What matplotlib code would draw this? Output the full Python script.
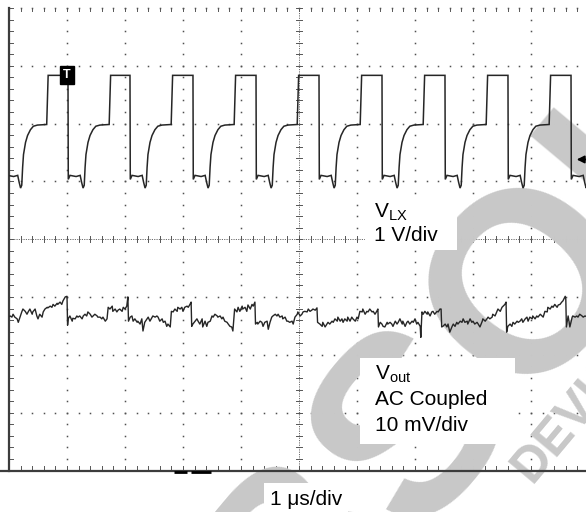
import numpy as np
import matplotlib
matplotlib.use("Agg")
import matplotlib.pyplot as plt
from matplotlib.patches import Rectangle

plt.rcParams['font.family'] = ['Liberation Sans', 'DejaVu Sans']
plt.rcParams['mathtext.fontset'] = 'custom'
plt.rcParams['mathtext.rm'] = 'Liberation Sans'

# ---------------- data (time in us, 1 us/div) ----------------
# V_LX switching node: fall instants of each pulse and the shape of one cycle
lx_fall_times_us = [-0.06, 1.017, 2.086, 3.172, 4.259, 5.345, 6.431, 7.517, 8.603, 9.690]
lx_shape_dt_us = [0.0, 0.005, 0.035, 0.14, 0.21, 0.235, 0.26, 0.28, 0.295, 0.31,
                  0.345, 0.38, 0.43, 0.48, 0.55, 0.71, 0.735]
lx_shape_v = [1.73, -0.07, 0.0, -0.02, 0.0, -0.12, -0.22, -0.17, 0.14, 0.36,
              0.57, 0.69, 0.79, 0.85, 0.87, 0.88, 1.73]

# V_out ripple (AC coupled, mV)
vout_time_us = [
    0.00, 0.02, 0.05, 0.07, 0.10, 0.14, 0.16, 0.19, 0.22, 0.24,
    0.28, 0.31, 0.33, 0.36, 0.40, 0.41, 0.45, 0.48, 0.50, 0.53,
    0.57, 0.59, 0.62, 0.66, 0.67, 0.71, 0.74, 0.76, 0.79, 0.83,
    0.84, 0.88, 0.91, 0.93, 0.97, 1.00, 1.01, 1.02,
    1.05, 1.09, 1.10, 1.14, 1.17, 1.19, 1.22, 1.26, 1.28, 1.31,
    1.34, 1.36, 1.40, 1.43, 1.45, 1.48, 1.52, 1.53, 1.57, 1.60,
    1.62, 1.66, 1.69, 1.71, 1.74, 1.78, 1.79, 1.83, 1.86, 1.88,
    1.91, 1.95, 1.97, 2.00, 2.03, 2.05, 2.06,
    2.09, 2.12, 2.14, 2.17, 2.21, 2.22, 2.26, 2.29, 2.31, 2.34,
    2.38, 2.40, 2.43, 2.47, 2.48, 2.52, 2.55, 2.57, 2.60, 2.64,
    2.66, 2.69, 2.72, 2.74, 2.78, 2.80, 2.83, 2.86, 2.90, 2.91,
    2.95, 2.98, 3.00, 3.03, 3.07, 3.09, 3.12, 3.14, 3.15,
    3.17, 3.21, 3.24, 3.26, 3.29, 3.33, 3.34, 3.38, 3.41, 3.43,
    3.47, 3.50, 3.52, 3.55, 3.59, 3.60, 3.64, 3.67, 3.69, 3.72,
    3.76, 3.78, 3.81, 3.84, 3.86, 3.89, 3.93, 3.95, 3.98, 4.02,
    4.03, 4.07, 4.10, 4.12, 4.16, 4.19, 4.21, 4.24, 4.25,
    4.28, 4.29, 4.33, 4.36, 4.38, 4.41, 4.45, 4.47, 4.50, 4.53,
    4.55, 4.59, 4.62, 4.64, 4.67, 4.71, 4.72, 4.76, 4.79, 4.81,
    4.84, 4.88, 4.90, 4.93, 4.97, 4.98, 5.02, 5.05, 5.07, 5.10,
    5.14, 5.16, 5.19, 5.22, 5.24, 5.28, 5.31, 5.32,
    5.36, 5.40, 5.41, 5.45, 5.48, 5.50, 5.53, 5.57, 5.59, 5.62,
    5.66, 5.67, 5.71, 5.74, 5.76, 5.79, 5.83, 5.84, 5.88, 5.91,
    5.93, 5.97, 6.00, 6.02, 6.05, 6.09, 6.10, 6.14, 6.17, 6.19,
    6.22, 6.26, 6.28, 6.31, 6.34, 6.36, 6.37,
    6.40, 6.43, 6.45, 6.48, 6.52, 6.53, 6.57, 6.60, 6.62, 6.66,
    6.69, 6.71, 6.74, 6.78, 6.79, 6.83, 6.86, 6.88, 6.91, 6.95,
    6.97, 7.00, 7.03, 7.05, 7.09, 7.10, 7.12, 7.14, 7.17, 7.21,
    7.22, 7.26, 7.29, 7.31, 7.34, 7.38, 7.40, 7.43, 7.45, 7.46,
    7.48, 7.52, 7.55, 7.57, 7.60, 7.64, 7.66, 7.69, 7.72, 7.74,
    7.78, 7.81, 7.83, 7.86, 7.90, 7.91, 7.95, 7.98, 8.00, 8.03,
    8.07, 8.09, 8.12, 8.16, 8.17, 8.21, 8.24, 8.26, 8.29, 8.33,
    8.34, 8.38, 8.41, 8.43, 8.47, 8.50, 8.52, 8.55, 8.57, 8.58,
    8.60, 8.64, 8.67, 8.69, 8.72, 8.76, 8.78, 8.81, 8.84, 8.86,
    8.90, 8.93, 8.95, 8.98, 9.02, 9.03, 9.07, 9.10, 9.12, 9.16,
    9.19, 9.21, 9.24, 9.28, 9.29, 9.33, 9.36, 9.38, 9.41, 9.45,
    9.47, 9.50, 9.53, 9.55, 9.59, 9.60, 9.61,
    9.64, 9.67, 9.71, 9.72, 9.76, 9.79, 9.81, 9.84, 9.88, 9.90,
    9.93, 9.96,
]
vout_mv = [
    0.1, 0.2, 0.0, 0.5, 0.0, -0.3, -0.9, 0.0, 0.9, 1.4,
    1.0, 0.5, 0.9, 1.4, 0.5, 0.9, 1.4, 0.2, -0.3, 0.5,
    0.0, 0.9, 1.4, 1.7, 1.6, 1.9, 1.7, 2.2, 1.9, 2.4,
    2.2, 2.6, 2.2, 2.8, 3.5, 3.6, -1.4, -0.3,
    0.2, -0.7, -0.2, -0.3, 0.2, 0.0, 0.2, -0.3, 0.2, 0.5,
    0.2, 0.9, 0.5, 0.0, 0.2, 0.5, 0.2, 0.0, 0.0, -0.3,
    0.0, -0.7, -0.3, 1.7, 1.4, 1.9, 1.0, 1.4, 0.9, 1.2,
    1.4, 1.0, 1.7, 1.4, 1.9, 3.5, -0.7,
    0.0, 0.2, -0.7, -0.3, -0.9, -0.7, -1.2, -0.3, -2.4, -0.9,
    -0.3, 0.0, -0.7, 0.0, 0.2, 0.0, 0.2, 0.0, -0.7, -0.3,
    -0.9, -0.7, -1.6, -1.2, -1.7, 1.0, 0.9, 1.4, 1.0, 1.7,
    1.4, 1.7, 1.0, 1.7, 1.9, 1.7, 2.2, 2.6, -1.6,
    -1.2, -0.7, -0.3, -0.7, -1.2, -0.3, -1.7, -0.7, -1.6, -0.9,
    -0.7, 0.2, 0.0, 0.5, 0.2, 0.0, 0.2, -0.3, 0.0, -0.7,
    -0.9, -1.2, -1.6, -1.7, -2.4, 1.4, 0.9, 1.7, 1.0, 1.9,
    1.4, 1.7, 1.0, 2.1, 1.4, 2.2, 1.9, 2.6, -1.2,
    -0.9, -1.2, -0.7, -0.9, -1.6, -0.9, -0.7, -2.1, -0.9, 0.0,
    0.2, 0.5, 0.2, 0.5, 0.0, 0.2, -0.3, 0.0, -0.7, -0.7,
    -0.9, -0.7, -1.2, 0.0, 0.5, 0.9, 0.2, 0.5, 0.9, 1.0,
    0.9, 1.4, 1.0, 1.2, 1.4, 1.2, 1.6, -0.9,
    -1.2, -1.6, -0.9, -1.7, -1.2, -0.9, -1.2, -0.7, -0.9, -0.3,
    -0.7, 0.0, -0.7, -0.3, -0.9, -0.3, -0.7, 0.0, -0.7, 0.0,
    -0.3, -0.7, 0.0, -0.3, 1.0, 0.9, 1.4, 0.5, 1.0, 0.9,
    1.4, 0.9, 1.0, 0.5, 1.0, 1.4, -1.7,
    -0.9, -1.2, -1.6, -1.7, -0.9, -1.2, -0.9, -1.2, -1.6, -0.7,
    -1.2, -0.9, -0.3, -1.2, -0.7, -1.6, -0.9, -0.7, -1.2, -0.7,
    -0.9, -0.3, -1.2, -0.9, -1.6, -3.5, 0.9, 0.5, 1.0, 0.5,
    0.9, 0.2, 0.9, 1.0, 0.5, 1.0, 0.9, 1.4, 1.4, -1.7,
    -1.6, -1.2, -1.7, -1.2, -2.6, -1.6, -1.2, -1.6, -0.9, -1.2,
    -0.7, -0.9, -0.3, -0.9, -0.7, -1.2, -0.3, -0.9, -0.7, -1.2,
    -0.9, -1.2, -1.7, -0.7, -0.3, -0.7, -0.3, 0.0, -0.3, 0.0,
    0.5, 0.2, 0.9, 1.4, 1.0, 1.7, 1.9, 2.2, 2.6, -2.6,
    -1.6, -1.2, -1.6, -0.9, -1.2, -0.7, -0.9, -0.7, -0.3, -0.9,
    -0.3, 0.0, -0.7, 0.0, -0.3, 0.2, -0.3, 0.2, 0.0, 0.5,
    0.2, 0.0, 1.0, 0.9, 1.7, 1.4, 1.9, 1.7, 2.2, 1.7,
    2.1, 2.2, 2.6, 2.8, 3.6, 3.1, -1.7,
    0.2, -1.7, 0.0, 0.2, 0.0, 0.2, 0.0, 0.5, 0.2, 0.0,
    0.2, 0.1,
]
assert len(vout_time_us) == len(vout_mv)

# channel settings
lx_volts_per_div = 1.0
lx_ground_div = 1.105
vout_mv_per_div = 10.0
vout_offset_div = -1.347

# ---------------- figure ----------------
W, H = 586, 512
fig = plt.figure(figsize=(W / 100, H / 100), dpi=100)
top_px, bot_px, left_px = 8, 470.5, 9
ax = fig.add_axes([left_px / W, (H - bot_px) / H, 580 / W, (bot_px - top_px) / H])
ax.set_xlim(0, 10)
ax.set_ylim(-4, 4)
ax.axis('off')

gc = '#505050'
xs_minor = np.arange(0, 10.001, 0.2)
ys_minor = np.arange(-4, 4.001, 0.2)

# dotted major grid lines
for k in range(1, 10):
    if k == 5:
        continue
    ax.plot(np.full_like(ys_minor, k), ys_minor, ls='none', marker='s', ms=1.1,
            mew=0, color=gc, zorder=1)
for j in range(-3, 5):
    if j == 0:
        continue
    ax.plot(xs_minor, np.full_like(xs_minor, j), ls='none', marker='s', ms=1.1,
            mew=0, color=gc, zorder=1, clip_on=False)

# centre cross lines with ticks
ax.plot([5, 5], [-4, 4], ls=(0, (1.2, 1.2)), lw=0.7, color='#6a6a6a', zorder=1)
ax.plot([0, 10], [0, 0], ls=(0, (1.2, 1.2)), lw=0.7, color='#6a6a6a', zorder=1)
for yy in ys_minor:
    ax.plot([4.95, 5.05], [yy, yy], lw=0.7, color='#555555', zorder=1)
for xx in xs_minor:
    ax.plot([xx, xx], [-0.05, 0.05], lw=0.7, color='#555555', zorder=1)

# border: left solid, bottom solid (extends to figure edge), ticks
ax.plot([0, 0], [-4, 4], lw=1.6, color='#3c3c3c', zorder=2, clip_on=False)
ax.plot([-0.2, 10.2], [-4, -4], lw=1.6, color='#3c3c3c', zorder=2, clip_on=False)
for yy in ys_minor:
    ax.plot([0, 0.07], [yy, yy], lw=0.7, color='#555555', zorder=1)
for xx in xs_minor:
    ax.plot([xx, xx], [-4, -3.93], lw=0.7, color='#555555', zorder=1)
    ax.plot([xx, xx], [4, 3.94], lw=0.7, color='#555555', zorder=1, clip_on=False)

# bottom position markers
ax.plot([2.84, 3.07], [-4.03, -4.03], lw=2.0, color='black', solid_capstyle='butt',
        clip_on=False, zorder=6)
ax.plot([3.14, 3.48], [-4.03, -4.03], lw=2.0, color='black', solid_capstyle='butt',
        clip_on=False, zorder=6)

# ---------------- watermark ----------------
wm = '#c8c8c8'
ax.text(168 / W, 1 - 830 / H, 'OBSOLETE', transform=fig.transFigure, fontsize=184,
        fontweight='bold', color=wm, rotation=50, rotation_mode='anchor',
        ha='left', va='baseline', zorder=1.5, clip_on=False)
ax.text(532 / W, 1 - 484 / H, 'DEVICE', transform=fig.transFigure, fontsize=36,
        fontweight='bold', color=wm, rotation=50, rotation_mode='anchor',
        ha='left', va='baseline', zorder=1.5, clip_on=False)

# ---------------- traces ----------------
t_lx, v_lx = [], []
for tf in lx_fall_times_us:
    for dt, v in zip(lx_shape_dt_us, lx_shape_v):
        t_lx.append(tf + dt)
        v_lx.append(v)
t_lx = np.array(t_lx)
y_lx = lx_ground_div + np.array(v_lx) / lx_volts_per_div
ax.plot(t_lx, y_lx, color='#262626', lw=1.1, zorder=3, solid_joinstyle='miter')

y_out = vout_offset_div + np.array(vout_mv) / vout_mv_per_div
ax.plot(vout_time_us, y_out, color='#262626', lw=1.0, zorder=3)

# trigger marker
ax.text(1.0, 2.84, 'T', ha='center', va='center', fontsize=9, fontweight='bold',
        color='white', zorder=6,
        bbox=dict(boxstyle='square,pad=0.22', fc='black', ec='black'))
# channel reference arrow at the right edge
ax.annotate('', xy=(9.74, 1.38), xytext=(10.0, 1.38),
            arrowprops=dict(arrowstyle='-|>', color='black', lw=1.3,
                            mutation_scale=11), zorder=6, annotation_clip=False)

# ---------------- labels ----------------
ax.add_patch(Rectangle((6.14, -0.19), 1.58, 0.95, fc='white', ec='none', zorder=4))
ax.add_patch(Rectangle((6.05, -3.55), 2.67, 1.50, fc='white', ec='none', zorder=4))
fs = 15
ax.text(6.29, 0.372, r'V$_{\mathregular{LX}}$', fontsize=fs, va='baseline', zorder=5)
ax.text(6.29, -0.026, '1 V/div', fontsize=fs, va='baseline', zorder=5)
ax.text(6.31, -2.43, r'V$_{\mathregular{out}}$', fontsize=fs, va='baseline', zorder=5)
ax.text(6.31, -2.86, 'AC Coupled', fontsize=fs, va='baseline', zorder=5)
ax.text(6.31, -3.31, '10 mV/div', fontsize=fs, va='baseline', zorder=5)
ax.text(5.12, -4.59, '1 \u03bcs/div', fontsize=fs, ha='center', va='baseline',
        zorder=5, clip_on=False,
        bbox=dict(boxstyle='square,pad=0.3', fc='white', ec='none'))

fig.savefig('out.png', dpi=100)
